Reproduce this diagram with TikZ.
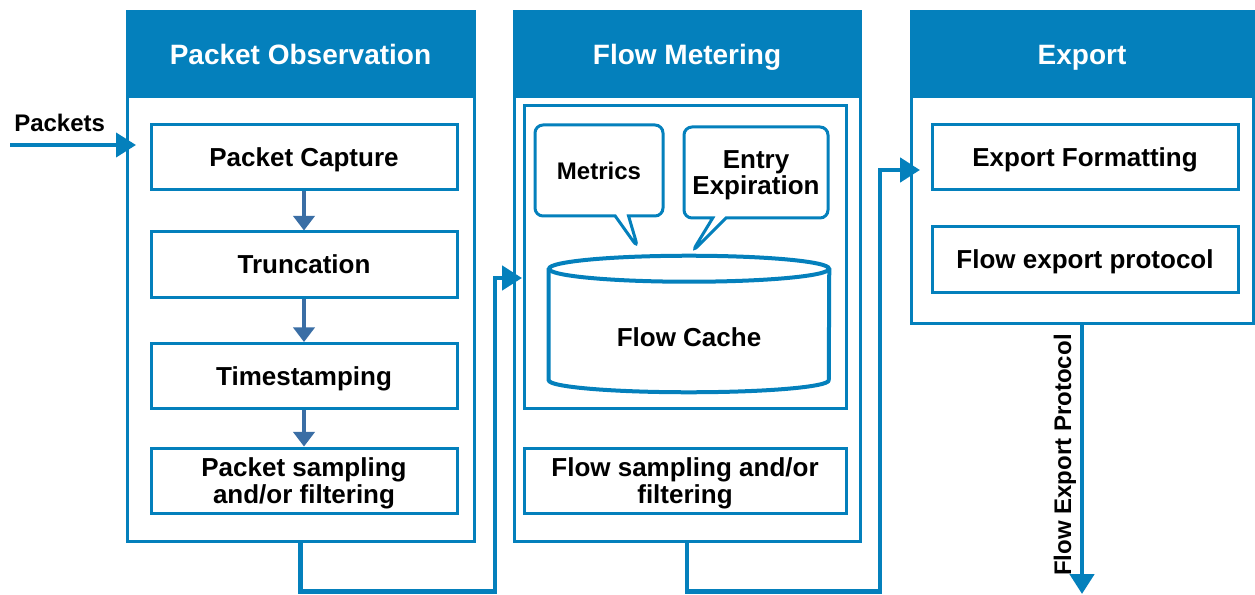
\documentclass[tikz,border=0pt]{standalone}
\usepackage{fontspec}
\setmainfont{Liberation Sans}
\usepackage{xcolor}
\usepackage{tikz}
\usetikzlibrary{arrows.meta,positioning,calc,shapes.callouts}
\definecolor{fmblue}{HTML}{0480BC}
\definecolor{fmsteel}{HTML}{3A6EA5}
\tikzset{
  Pnl/.style={draw=fmblue, line width=2.25pt, fill=white, inner sep=0pt},
  Phead/.style={draw=fmblue, fill=fmblue, line width=2.25pt, text=white,
                font=\fontsize{21}{24}\selectfont\bfseries, inner sep=0pt,
                minimum height=63.75pt, text depth=0pt},
  Sbox/.style={draw=fmblue, line width=2.25pt, fill=white, align=center,
               font=\fontsize{19.5}{20}\selectfont\bfseries, inner sep=0pt,
               minimum width=229.5pt, minimum height=48.75pt, text depth=0pt},
  Ctag/.style={rectangle callout, draw=fmblue, line width=2.25pt, fill=white,
               rounded corners=6pt, align=center, inner sep=0pt, text depth=0pt,
               minimum height=68.25pt, callout pointer width=10pt},
  Cyl/.style={draw=fmblue, line width=3pt},
  Sarr/.style={-{Triangle[length=11pt,width=16pt]}, line width=2.4pt, draw=fmsteel},
  Farr/.style={-{Triangle[length=15pt,width=18pt]}, line width=3.6pt, draw=fmblue},
  Tlbl/.style={font=\fontsize{18}{20}\selectfont\bfseries, inner sep=0pt}
}

\begin{document}
\begin{tikzpicture}[x=0.75pt, y=-0.75pt]
  \useasboundingbox (0,0) rectangle (1255,595);

  % packet observation
  \node[Pnl, minimum width=260.25pt, minimum height=396.75pt] (po) at (300.5,276.5) {};
  \node[Phead, minimum width=260.25pt] (poh) at (300.5,54.5) {Packet Observation};
  \node[Sbox] (pc) at (304,157.5) {Packet Capture};
  \node[Sbox] (trunc) at (304,264.5) {Truncation};
  \node[Sbox] (ts) at (304,376) {Timestamping};
  \node[Sbox] (psf) at (304,480.5) {Packet sampling\\and/or filtering};

  % flow metering
  \node[Pnl, minimum width=259.5pt, minimum height=396.75pt] (fm) at (687,276.5) {};
  \node[Phead, minimum width=259.5pt] (fmh) at (687,54.5) {Flow Metering};
  \node[Pnl, minimum width=241.5pt, minimum height=226.5pt] (fmin) at (685,257) {};
  \node[Sbox, minimum width=241.5pt] (fsf) at (685,480.5) {Flow sampling and/or\\filtering};
  \node[Tlbl, font=\fontsize{19.5}{20}\selectfont\bfseries,
        minimum width=210pt, minimum height=82.5pt] (fcache) at (689,337) {Flow Cache};
  \draw[Cyl] ($(fcache.north west)+(0,-13)$) -- ($(fcache.south west)+(0,-12)$)
    arc[start angle=180, end angle=0, x radius=140, y radius=12]
    -- ($(fcache.north east)+(0,-13)$);
  \draw[Cyl] ($(fcache.north)+(0,-13)$) ellipse[x radius=140, y radius=13];
  \coordinate (mtip) at (638,248);
  \coordinate (etip) at (692,252);
  \node[Ctag, minimum width=96pt, callout absolute pointer={(mtip)},
        font=\fontsize{18}{20}\selectfont\bfseries] (metrics) at (599,170.5) {Metrics};
  \node[Ctag, minimum width=108pt, callout absolute pointer={(etip)},
        font=\fontsize{19.5}{19.5}\selectfont\bfseries] (expiry) at (756,172.5) {Entry\\Expiration};

  % export
  \node[Pnl, minimum width=256.5pt, minimum height=233.25pt] (ex) at (1082,167.5) {};
  \node[Phead, minimum width=256.5pt] (exh) at (1082,54.5) {Export};
  \node[Sbox] (efmt) at (1085,157.5) {Export Formatting};
  \node[Sbox] (fep) at (1085,259.5) {Flow export protocol};

  % connectors
  \coordinate (src) at (10,145);
  \coordinate (pin) at (136,145);
  \coordinate (in2) at (522,278);
  \coordinate (in3) at (920,170);
  \coordinate (out) at (1082,594);
  \node[Tlbl, above=10pt of src, anchor=south west, xshift=3pt] (pkts) {Packets};
  \draw[Farr, line width=3pt] (src) -- (pin);
  \draw[Sarr] (pc.south) -- (trunc.north);
  \draw[Sarr] (trunc.south) -- (ts.north);
  \draw[Sarr] (ts.south) -- (psf.north);
  \draw[Farr] (po.south) -- ++(0,49) -| ($(in2)+(-27,0)$) -- (in2);
  \draw[Farr] (fm.south) -- ++(0,49) -| ($(in3)+(-40,0)$) -- (in3);
  \draw[Farr] (ex.south) -- (out);
  \node[Tlbl, rotate=90] (fepl) at (1065,455) {Flow Export Protocol};
\end{tikzpicture}
\end{document}
